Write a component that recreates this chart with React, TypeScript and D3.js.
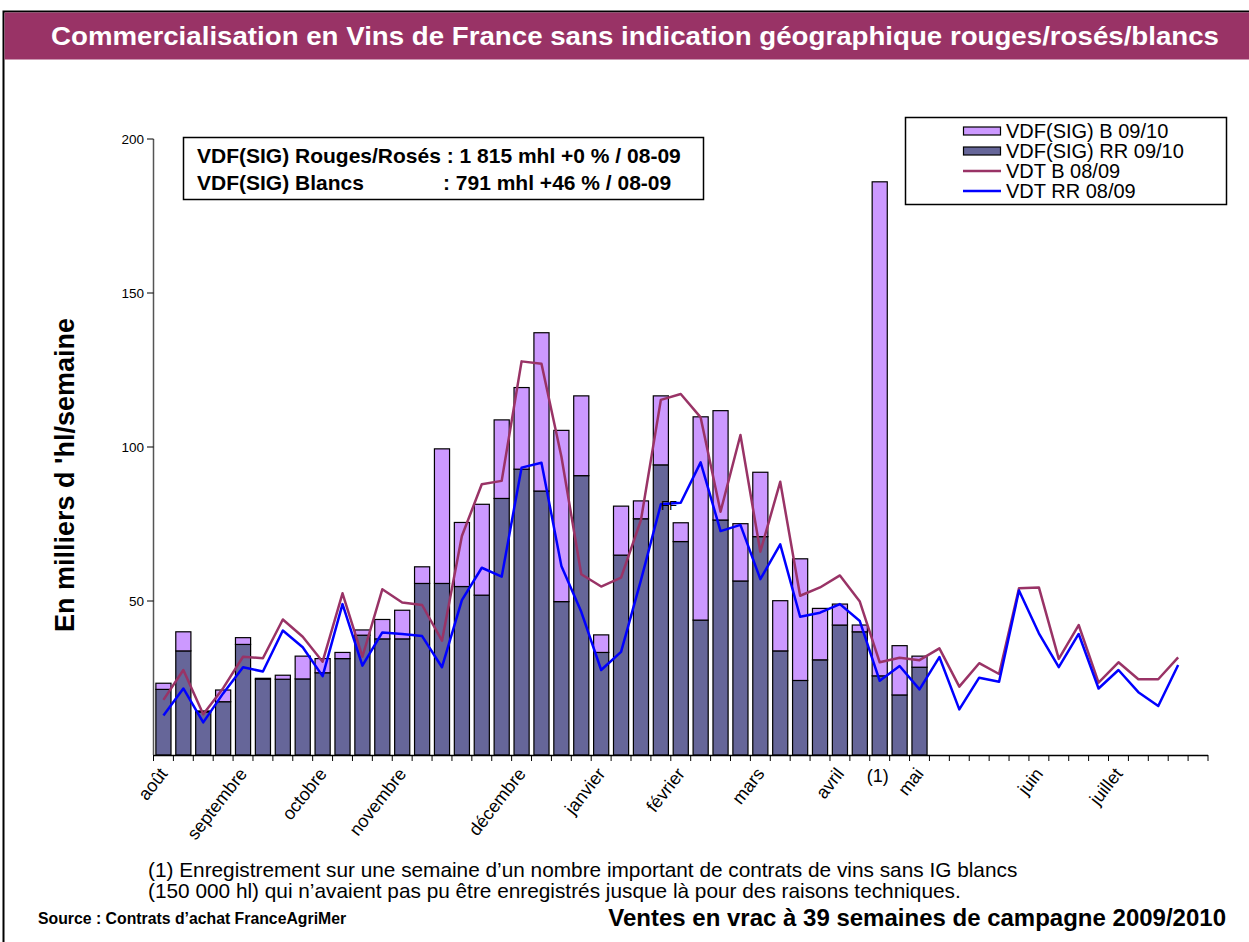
import React from "react";
import * as d3 from "d3";

const W = 1249;
const H = 942;
const FONT = "'Liberation Sans', Arial, sans-serif";

// semaines de campagne (août -> juillet)
const weekCount = 53;

// VDF(SIG) RR 09/10, milliers d'hl
const rr0910 = [
  21.3, 33.8, 14, 17.3, 35.9, 24.6, 24.6, 24.7, 26.7, 31.3,
  38.9, 37.7, 37.7, 55.7, 55.7, 54.7, 51.9, 83.3, 92.8, 85.7,
  49.8, 90.7, 33.3, 64.9, 76.7, 94.2, 69.3, 43.8, 76.3, 56.5,
  70.9, 33.8, 24.2, 30.9, 42.2, 40.0, 25.7, 19.5, 28.5,
];

// VDF(SIG) B 09/10
const b0910 = [
  2.0, 6.2, 0.3, 3.8, 2.2, 0.3, 1.3, 7.4, 4.6, 2.0,
  1.7, 6.3, 9.3, 5.4, 43.7, 20.8, 29.5, 25.5, 26.5, 51.4,
  55.6, 25.9, 5.7, 15.9, 5.8, 22.4, 6.1, 66.0, 35.5, 18.6,
  20.9, 16.3, 39.5, 16.7, 6.8, 2.2, 160.4, 16.0, 3.6,
];

// VDT B 08/09
const vdtB0809 = [
  17.9, 27.6, 13.2, 21.7, 31.9, 31.4, 44.0, 38.4, 30.3, 52.5,
  31.9, 53.8, 49.5, 48.7, 37.1, 71.1, 87.9, 89.0, 127.8, 127.0,
  96.9, 58.7, 54.7, 57.6, 76.3, 115.3, 117.2, 109.6, 79.0, 103.9,
  66.0, 88.7, 51.7, 54.4, 58.3, 49.8, 30.1, 31.6, 30.8, 34.6,
  22.2, 29.8, 26.3, 54.1, 54.4, 31.2, 42.2, 23.5, 30.1, 24.6,
  24.6, 31.7,
];

// VDT RR 08/09
const vdtRR0809 = [
  12.8, 21.6, 10.6, 20.0, 28.5, 27.1, 40.4, 35.0, 25.6, 49.0,
  29.0, 39.8, 39.3, 38.6, 28.5, 50.3, 60.8, 57.9, 93.3, 94.9,
  61.4, 46.5, 27.6, 33.5, 56.8, 81.4, 81.9, 95.0, 72.7, 74.7,
  57.1, 68.4, 44.9, 46.2, 49.0, 43.5, 24.1, 28.9, 21.3, 31.8,
  14.8, 25.1, 23.8, 53.4, 39.5, 28.5, 39.3, 21.6, 27.6, 20.4,
  15.9, 29.2,
];

const monthNames = ["août", "septembre", "octobre", "novembre", "décembre", "janvier", "février", "mars", "avril", "mai", "juin", "juillet"];
const monthWeeks = [0, 4, 8, 12, 18, 22, 26, 30, 34, 38, 44, 48];
const yTicks = [50, 100, 150, 200];

const legendItems = [
  { label: "VDF(SIG) B 09/10", kind: "bar", color: "#CC99FF" },
  { label: "VDF(SIG) RR 09/10", kind: "bar", color: "#666699" },
  { label: "VDT B 08/09", kind: "line", color: "#993366" },
  { label: "VDT RR 08/09", kind: "line", color: "#0000FF" },
];

export default function App() {
  const x = d3.scaleBand<number>().domain(d3.range(weekCount)).range([153.5, 1208]).padding(0);
  const step = x.step();
  const barW = step * 0.76;
  const cx = (i: number) => (x(i) as number) + step / 2;
  const y = d3.scaleLinear().domain([0, 200]).range([755, 139]);

  const line = d3
    .line<number>()
    .x((_, i) => cx(i))
    .y((d) => y(d));

  return (
    <svg width={W} height={H} style={{ position: "absolute", left: 0, top: 0, background: "#fff" }} fontFamily={FONT}>
      {/* cadre + bandeau titre */}
      <rect x={3.5} y={11.5} width={W} height={H} fill="none" stroke="#000" strokeWidth={2} />
      <rect x={4.5} y={12.5} width={W - 4} height={47} fill="#993366" />
      <text x={635} y={45} textAnchor="middle" fill="#fff" fontWeight="bold" fontSize={25} textLength={1168} lengthAdjust="spacingAndGlyphs">
        Commercialisation en Vins de France sans indication géographique rouges/rosés/blancs
      </text>

      {/* axe Y */}
      <line x1={153.5} x2={153.5} y1={y(200)} y2={y(0)} stroke="#555" strokeWidth={1.5} />
      {yTicks.map((t) => (
        <g key={t}>
          <line x1={147} x2={153.5} y1={y(t)} y2={y(t)} stroke="#000" />
          <text x={144} y={y(t)} dy="0.35em" textAnchor="end" fontSize={13.5}>
            {t}
          </text>
        </g>
      ))}
      <text transform={`translate(74, 475) rotate(-90)`} textAnchor="middle" fontWeight="bold" fontSize={27}>
        En milliers d 'hl/semaine
      </text>

      {/* barres empilées */}
      {rr0910.map((v, i) => {
        const bx = cx(i) - barW / 2;
        const top = v + b0910[i];
        return (
          <g key={i}>
            <rect x={bx} y={y(v)} width={barW} height={y(0) - y(v)} fill="#666699" stroke="#000" strokeWidth={1.2} />
            <rect x={bx} y={y(top)} width={barW} height={y(v) - y(top)} fill="#CC99FF" stroke="#000" strokeWidth={1.2} />
          </g>
        );
      })}

      {/* axe X */}
      <line x1={153.5} x2={1208} y1={755.5} y2={755.5} stroke="#000" strokeWidth={1.5} />
      {d3.range(weekCount + 1).map((k) => {
        const tx = 153.5 + k * step;
        return <line key={k} x1={tx} x2={tx} y1={755} y2={761} stroke="#000" />;
      })}
      {monthNames.map((m, i) => (
        <text
          key={m}
          transform={`translate(${cx(monthWeeks[i]) + 5}, 774) rotate(-52)`}
          textAnchor="end"
          fontSize={18}
        >
          {m}
        </text>
      ))}
      <text x={cx(36) - 2} y={782} textAnchor="middle" fontSize={18}>
        (1)
      </text>

      {/* courbes 08/09 */}
      <path d={line(vdtB0809) || ""} fill="none" stroke="#993366" strokeWidth={2.5} strokeLinejoin="round" />
      <path d={line(vdtRR0809) || ""} fill="none" stroke="#0000FF" strokeWidth={2.5} strokeLinejoin="round" />
      <text x={661} y={510} fontSize={13}>
        FF
      </text>

      {/* encadré cumuls */}
      <rect x={183.5} y={137.5} width={520} height={62} fill="#fff" stroke="#000" strokeWidth={1.5} />
      <text x={197} y={163} fontWeight="bold" fontSize={21}>
        VDF(SIG) Rouges/Rosés : 1 815 mhl +0 % / 08-09
      </text>
      <text x={197} y={190} fontWeight="bold" fontSize={21}>
        VDF(SIG) Blancs
      </text>
      <text x={443} y={190} fontWeight="bold" fontSize={21}>
        :  791 mhl +46 % / 08-09
      </text>

      {/* légende */}
      <rect x={905.5} y={117.5} width={321} height={87} fill="#fff" stroke="#000" strokeWidth={1.5} />
      {legendItems.map((it, i) => {
        const ly = 131 + i * 20;
        return (
          <g key={it.label}>
            {it.kind === "bar" ? (
              <rect x={963.5} y={ly - 4} width={37} height={8} fill={it.color} stroke="#000" strokeWidth={1.2} />
            ) : (
              <line x1={963} x2={1001} y1={ly} y2={ly} stroke={it.color} strokeWidth={2.5} />
            )}
            <text x={1006} y={ly} dy="0.35em" fontSize={20}>
              {it.label}
            </text>
          </g>
        );
      })}

      {/* notes */}
      <text x={148} y={877} fontSize={20.8}>
        (1) Enregistrement sur une semaine d’un nombre important de contrats de vins sans IG blancs
      </text>
      <text x={148} y={898} fontSize={20.8}>
        (150 000 hl) qui n’avaient pas pu être enregistrés jusque là pour des raisons techniques.
      </text>
      <text x={38} y={924} fontWeight="bold" fontSize={15.8}>
        Source : Contrats d’achat FranceAgriMer
      </text>
      <text x={1226} y={926} textAnchor="end" fontWeight="bold" fontSize={24}>
        Ventes en vrac à 39 semaines de campagne 2009/2010
      </text>
    </svg>
  );
}
